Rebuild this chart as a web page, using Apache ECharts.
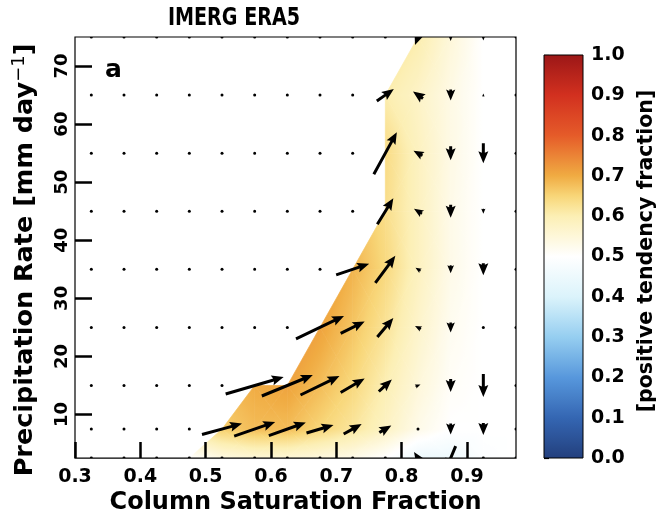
<!DOCTYPE html>
<html><head><meta charset="utf-8">
<script src="https://cdn.jsdelivr.net/npm/echarts@6/dist/echarts.min.js"></script>
<style>html,body{margin:0;padding:0;background:#fff}#c{width:659px;height:520px}</style>
</head><body><div id="c"></div>
<script>
// ---- data ----
const xCenters = [0.325,0.375,0.425,0.475,0.525,0.575,0.625,0.675,0.725,0.775,0.825,0.875,0.925,0.975];
const yCenters = [2.5,7.5,15,25,35,45,55,65,75];
const N = null;
// positive tendency fraction (null = no data)
const fraction = [
 [N,N,N,0.50,0.54,0.555,0.555,0.545,0.53,0.50,0.45,0.45,0.49,0.50],
 [N,N,N,N,0.66,0.68,0.68,0.65,0.62,0.58,0.53,0.50,0.50,0.50],
 [N,N,N,N,N,0.70,0.71,0.68,0.645,0.60,0.55,0.51,0.50,0.50],
 [N,N,N,N,N,N,N,0.71,0.67,0.625,0.57,0.52,0.50,0.50],
 [N,N,N,N,N,N,N,N,0.69,0.645,0.585,0.53,0.50,0.50],
 [N,N,N,N,N,N,N,N,N,0.635,0.585,0.53,0.50,0.50],
 [N,N,N,N,N,N,N,N,N,0.64,0.585,0.535,0.50,0.50],
 [N,N,N,N,N,N,N,N,N,0.605,0.575,0.535,0.50,0.50],
 [N,N,N,N,N,N,N,N,N,N,0.605,0.55,0.50,0.50]
];
// mean tendency vector components (x: saturation, y: precipitation)
const uComp = [
 [0,0,0,0,0,0,0,0,0,0,-0.8,-1.0,0,0],
 [0,0,0,0,4.0,4.1,3.7,2.7,1.8,1.2,0.2,0,0,0],
 [0,0,0,0,0,5.8,5.1,3.9,2.4,1.3,0.5,0,0,0],
 [0,0,0,0,0,0,0,4.8,2.4,1.6,-0.6,0,0,0],
 [0,0,0,0,0,0,0,0,3.3,2.0,-0.5,0,0,0],
 [0,0,0,0,0,0,0,0,0,1.6,-0.8,0,0,0],
 [0,0,0,0,0,0,0,0,0,2.3,-0.9,0,0,0],
 [0,0,0,0,0,0,0,0,0,1.7,-1.0,0,0,0],
 [0,0,0,0,0,0,0,0,0,0,-0.6,0,0,0]
];
const vComp = [
 [0,0,0,0,0,0,0,0,0,0,1.2,-2.4,0,0],
 [0,0,0,0,1.1,1.4,1.3,0.8,1.0,0.7,0.1,-1.1,-1.2,0],
 [0,0,0,0,0,1.7,2.1,1.9,1.4,1.2,0.2,-1.3,-2.3,0],
 [0,0,0,0,0,0,0,2.3,1.2,1.9,0.3,-1.0,0,0],
 [0,0,0,0,0,0,0,0,1.1,2.7,0.3,-0.8,-1.2,0],
 [0,0,0,0,0,0,0,0,0,2.6,0.5,-1.3,-0.5,0],
 [0,0,0,0,0,0,0,0,0,4.2,0.5,-1.4,-2.0,0],
 [0,0,0,0,0,0,0,0,0,1.2,0.7,-1.1,0.3,0],
 [0,0,0,0,0,0,0,0,0,0,-1.6,-0.8,-0.7,0]
];
const xTicks = [0.3,0.4,0.5,0.6,0.7,0.8,0.9];
const yTicks = [10,20,30,40,50,60,70];
const cbTicks = [0,0.1,0.2,0.3,0.4,0.5,0.6,0.7,0.8,0.9,1.0];

// ---- style ----
const cmapStops = [[0,'#233f7d'],[0.1,'#3466b2'],[0.2,'#5797dc'],[0.3,'#95cef0'],[0.4,'#dbf3fb'],[0.5,'#ffffff'],[0.6,'#fcefb4'],[0.65,'#f8d678'],[0.7,'#f0ab42'],[0.8,'#e55b29'],[0.9,'#d2301f'],[1,'#9b1717']];
const arrowPx = 10, shaftW = 3, headW = 10, headLen = 12, headAx = 10.5, dotR = 1.5;
const FONT = "'DejaVu Sans'";

function hexToRgb(h){return [parseInt(h.slice(1,3),16),parseInt(h.slice(3,5),16),parseInt(h.slice(5,7),16)];}
const cmapRgb = cmapStops.map(s=>[s[0],hexToRgb(s[1])]);
function cmap(v){
  v=Math.max(0,Math.min(1,v));
  for(let k=1;k<cmapRgb.length;k++){
    if(v<=cmapRgb[k][0]){
      const a=cmapRgb[k-1],b=cmapRgb[k];const t=(v-a[0])/(b[0]-a[0]);
      const c=a[1].map((x,i)=>Math.round(x+(b[1][i]-x)*t));
      return 'rgb('+c[0]+','+c[1]+','+c[2]+')';
    }
  }
  const c=cmapRgb[cmapRgb.length-1][1];return 'rgb('+c.join(',')+')';
}
function tri(pts,vals){
  const [a,b,c]=pts,[fa,fb,fc]=vals;
  const d1x=b[0]-a[0],d1y=b[1]-a[1],d2x=c[0]-a[0],d2y=c[1]-a[1];
  const df1=fb-fa,df2=fc-fa,det=d1x*d2y-d1y*d2x;
  const fmin=Math.min(fa,fb,fc),fmax=Math.max(fa,fb,fc);
  let fill;
  if(Math.abs(det)<1e-9||fmax-fmin<1e-6){fill=cmap((fa+fb+fc)/3);}
  else{
    const gx=(df1*d2y-d1y*df2)/det,gy=(d1x*df2-df1*d2x)/det,g2=gx*gx+gy*gy;
    const pm=pts[vals.indexOf(fmin)],s=(fmax-fmin)/g2;
    const stops=[];const n=12;
    for(let k=0;k<=n;k++)stops.push({offset:k/n,color:cmap(fmin+(fmax-fmin)*k/n)});
    fill={type:'linear',x:pm[0],y:pm[1],x2:pm[0]+gx*s,y2:pm[1]+gy*s,colorStops:stops,global:true};
  }
  return {type:'polygon',shape:{points:pts},style:{fill:fill,stroke:fill,lineWidth:0.7}};
}
function renderQuad(params,api){
  const i=api.value(2),j=api.value(3);
  const xs=[xCenters[j],xCenters[j+1]],ys=[yCenters[i],yCenters[i+1]];
  const corners=[[0,0],[1,0],[1,1],[0,1]];
  const P=[],F=[];
  corners.forEach(cn=>{const f=fraction[i+cn[1]][j+cn[0]];if(f!=null){P.push(api.coord([xs[cn[0]],ys[cn[1]]]));F.push(f);}});
  const ch=[];
  if(P.length===4){
    const C=[(P[0][0]+P[1][0]+P[2][0]+P[3][0])/4,(P[0][1]+P[1][1]+P[2][1]+P[3][1])/4];
    const fc=(F[0]+F[1]+F[2]+F[3])/4;
    for(let k=0;k<4;k++){const k2=(k+1)%4;ch.push(tri([P[k],P[k2],C],[F[k],F[k2],fc]));}
  }else if(P.length===3){ch.push(tri(P,F));}
  return {type:'group',children:ch};
}
function renderArrow(params,api){
  const c=api.coord([api.value(0),api.value(1)]);
  const dx=api.value(2)*arrowPx,dy=-api.value(3)*arrowPx,L=Math.hypot(dx,dy);
  if(L<shaftW)return {type:'circle',shape:{cx:c[0],cy:c[1],r:dotR},style:{fill:'#000'}};
  const ux=dx/L,uy=dy/L,px=-uy,py=ux,w=shaftW/2,hw=headW/2;
  let loc;
  if(L>=headLen)loc=[[0,-w],[L-headAx,-w],[L-headLen,-hw],[L,0],[L-headLen,hw],[L-headAx,w],[0,w]];
  else{const s=L/headLen;loc=[[0,-w],[headLen-headAx,-w],[0,-hw],[headLen,0],[0,hw],[headLen-headAx,w],[0,w]].map(p=>[p[0]*s,p[1]*s]);}
  const tx=c[0]-ux*L/2,ty=c[1]-uy*L/2;
  const pts=loc.map(p=>[tx+ux*p[0]+px*p[1],ty+uy*p[0]+py*p[1]]);
  return {type:'polygon',shape:{points:pts},style:{fill:'#000'}};
}
function renderBar(params,api){
  const p0=api.coord([0,0]),p1=api.coord([1,1]);
  const stops=[];const n=40;
  for(let k=0;k<=n;k++)stops.push({offset:k/n,color:cmap(k/n)});
  return {type:'rect',shape:{x:p0[0],y:p1[1],width:p1[0]-p0[0],height:p0[1]-p1[1]},
    style:{fill:{type:'linear',x:0,y:1,x2:0,y2:0,colorStops:stops},stroke:'#000',lineWidth:1}};
}

const quadData=[];
for(let i=0;i<yCenters.length-1;i++)for(let j=0;j<xCenters.length-1;j++)quadData.push([xCenters[j],yCenters[i],i,j]);
const arrowData=[];
yCenters.forEach((y,i)=>xCenters.forEach((x,j)=>arrowData.push([x,y,uComp[i][j],vComp[i][j]])));

const lbl={color:'#000',fontWeight:'bold',fontFamily:FONT};
const chart=echarts.init(document.getElementById('c'),null,{renderer:'canvas'});
chart.setOption({
  animation:false,
  backgroundColor:'#fff',
  grid:[
    {left:75,top:37,width:441,height:424,show:true,borderColor:'#000',borderWidth:1.2,backgroundColor:'transparent',z:5},
    {left:544,top:55,width:39,height:403,show:false}
  ],
  xAxis:[
    {gridIndex:0,type:'value',min:0.3,max:0.975,z:10,
     axisLine:{show:false},
     axisTick:{show:true,inside:true,length:16,customValues:xTicks,lineStyle:{color:'#000',width:2.5}},
     axisLabel:Object.assign({customValues:xTicks,formatter:v=>v.toFixed(1),fontSize:19,margin:9},lbl),
     splitLine:{show:false},
     name:'Column Saturation Fraction',nameLocation:'middle',nameGap:32,
     nameTextStyle:Object.assign({fontSize:24},lbl)},
    {gridIndex:1,type:'value',min:0,max:1,show:false}
  ],
  yAxis:[
    {gridIndex:0,type:'value',min:2.5,max:75,z:10,
     axisLine:{show:false},
     axisTick:{show:true,inside:true,length:17,customValues:yTicks,lineStyle:{color:'#000',width:2.5}},
     axisLabel:Object.assign({customValues:yTicks,rotate:90,fontSize:18,margin:4},lbl),
     splitLine:{show:false}},
    {gridIndex:1,type:'value',min:0,max:1,position:'right',
     axisLine:{show:false},
     axisTick:{show:true,inside:false,length:5,customValues:cbTicks,lineStyle:{color:'#000',width:1.2}},
     axisLabel:Object.assign({customValues:cbTicks,formatter:v=>v.toFixed(1),fontSize:19,margin:8},lbl),
     splitLine:{show:false}}
  ],
  series:[
    {type:'custom',xAxisIndex:0,yAxisIndex:0,renderItem:renderQuad,data:quadData,encode:{x:0,y:1},clip:true,z:2,silent:true},
    {type:'custom',xAxisIndex:0,yAxisIndex:0,renderItem:renderArrow,data:arrowData,encode:{x:0,y:1},clip:true,z:3,silent:true},
    {type:'custom',xAxisIndex:1,yAxisIndex:1,renderItem:renderBar,data:[[0,0]],encode:{x:0,y:1},z:2,silent:true}
  ],
  graphic:[
    {type:'text',x:234,y:18,scaleX:0.765,style:{text:'IMERG ERA5',fontSize:25,fontWeight:'bold',fontFamily:FONT,fill:'#000',align:'center',verticalAlign:'middle'}},
    {type:'text',x:105,y:70.5,style:{text:'a',fontSize:25,fontWeight:'bold',fontFamily:FONT,fill:'#000',align:'left',verticalAlign:'middle'}},
    {type:'text',x:25,y:260,rotation:Math.PI/2,style:{text:'{a|Precipitation Rate [mm day}{s|−1}{a|]}',align:'center',verticalAlign:'middle',
      rich:{a:{fontSize:25.5,fontWeight:'bold',fontFamily:FONT,fill:'#000',lineHeight:30},s:{fontSize:18,fontFamily:FONT,fill:'#000',verticalAlign:'top',lineHeight:18}}}},
    {type:'text',x:647,y:251,rotation:Math.PI/2,style:{text:'[positive tendency fraction]',fontSize:20.5,fontWeight:'bold',fontFamily:FONT,fill:'#000',align:'center',verticalAlign:'middle'}}
  ]
});
</script></body></html>
